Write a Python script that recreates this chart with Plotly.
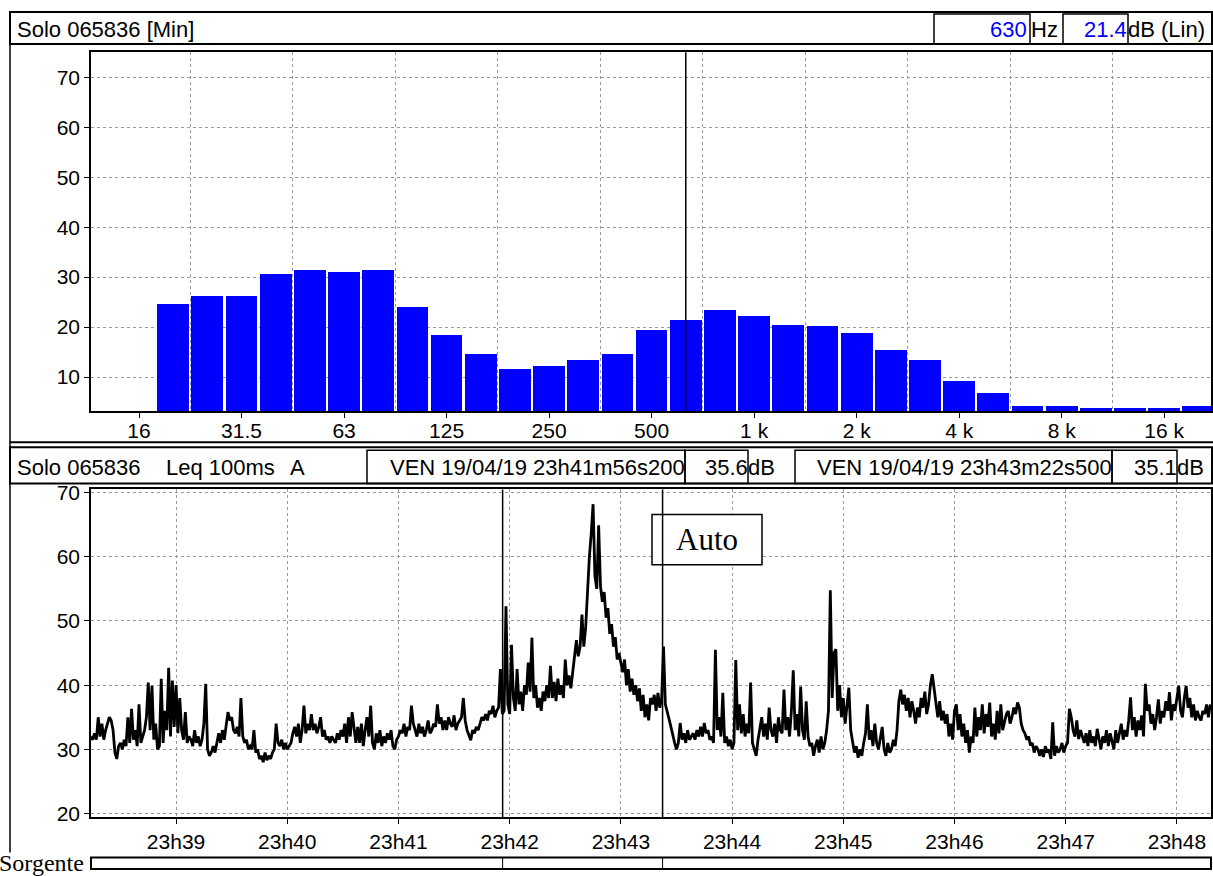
import numpy as np
import pandas as pd
import plotly.graph_objects as go

# ---------------- DATA ----------------
band_hz = ["20", "25", "31.5", "40", "50", "63", "80", "100", "125", "160", "200",
           "250", "315", "400", "500", "630", "800", "1k", "1.25k", "1.6k", "2k",
           "2.5k", "3.15k", "4k", "5k", "6.3k", "8k", "10k", "12.5k", "16k", "20k"]
band_db = [24.7, 26.3, 26.3, 30.7, 31.5, 31.1, 31.5, 23.9, 18.4, 14.6, 11.6,
           12.2, 13.4, 14.6, 19.4, 21.4, 23.3, 22.2, 20.4, 20.2, 18.8,
           15.4, 13.4, 9.2, 6.8, 4.2, 4.2, 3.8, 3.8, 3.8, 4.2]
freq_tick_text = ["16", "31.5", "63", "125", "250", "500", "1 k", "2 k", "4 k", "8 k", "16 k"]
spec_cursor_band = "630"

# Leq 100 ms (A) time history, one value per second; start given in seconds from 23:39:00
seg_a_start = -46
seg_a = [32, 31.5, 32.5, 31.5, 35, 32, 34, 31.5, 33, 34, 35, 34.5, 33, 29.5, 28.5, 30.5,
         31, 30, 31.5, 30.5, 35, 31, 36.3, 31.5, 33, 30.5, 37, 31, 32, 33, 35, 40.4, 33, 39.9,
         31.5, 34, 30, 30.5, 41, 31, 36, 33, 42.7, 32, 40.7, 33.5]
seg_b_start = 0
seg_b = [40, 32.5, 38, 33, 31.5, 35.8, 31, 32, 31.5, 30.5, 33, 31, 32, 30.5, 31.5, 34, 40.2,
         30, 29, 29.5, 30.5, 29.5, 31, 32.5, 31, 33, 31.5, 34, 35.8, 34.5, 35, 33,
         32.5, 33.5, 32, 38, 32, 31, 31.5, 30, 30.5, 30, 33, 29.5, 30,
         28.5, 29, 28, 29.5, 28.3, 29, 28.5, 29.5, 30, 34, 31, 30.5, 31.5, 30, 31]
seg_c_start = 60
seg_c = [30, 30.5, 31, 32.5, 33.5, 32, 34, 31, 33, 36.8, 32.5, 34, 33, 35.5, 33, 34, 32.5,
         33.5, 35, 32, 33, 31.5, 32, 31, 32, 31.5, 31, 32.5, 31.5, 33, 32, 34, 31, 35, 32,
         35.8, 33, 31, 33.5, 31, 34, 30.5, 33, 35, 32, 36.8, 31, 30, 32.5, 31, 33, 30.5,
         32, 31, 32.5, 31.5, 33, 30.5, 30, 31.5]
seg_d_start = 120
seg_d = [32, 33, 32.5, 34, 32, 33.5, 33, 36.8, 34, 33, 32, 34, 32.5, 33.5, 32, 33, 34.5,
         32.5, 33, 34, 33.5, 37, 34, 35, 33, 34.5, 33, 35, 34, 33.5, 35.3, 33, 34, 34.5, 35,
         38, 34.5, 33, 32, 31.4, 33, 32.5, 33.5, 33, 34, 35, 34.5, 35.5, 34.5, 36, 35.5,
         36.8, 35, 36, 36.5, 42.5, 35.5, 36, 52.3, 37]
seg_e_start = 180
seg_e = [35.5, 46.3, 38, 36, 42.5, 37, 39, 36, 40, 38.5, 43.5, 39, 47.4, 38, 40, 36.5, 38,
         36, 39, 37.5, 40, 38, 43, 38, 40.5, 37.5, 41, 38.5, 40, 38, 44, 40, 41.5, 39.5, 42,
         45, 47, 44.5, 46, 51, 46, 49, 55.4, 60, 63.6, 68.2, 57, 55, 64.9, 55.4, 53, 54.5,
         50.5, 52, 48, 49.5, 46, 47.5, 44, 45]
seg_f_start = 240
seg_f = [43.5, 42, 44, 40, 42.5, 39, 41, 38.5, 40, 37.5, 39.5, 36, 38.5, 35, 37, 34.5, 38,
         37, 38.5, 36, 38.8, 36.5, 38, 46, 37, 36, 34.7, 33.5, 32, 31, 30,
         31, 34.1, 31.5, 32.5, 31, 33, 31.5, 32, 32.5, 31.5, 33, 32, 33.5, 32, 34.1, 32.5,
         33, 31.5, 32, 31, 45.5, 33, 35, 32, 38.8, 31, 32, 30.5, 31.5]
seg_g_start = 300
seg_g = [30, 31, 43.9, 33, 37, 32.5, 35.5, 32, 34, 32.5, 40.4, 31, 30, 29, 31.5, 33, 35, 32,
         34, 31.5, 36.5, 33, 32, 34, 31, 35, 33, 32.5, 39.3, 33, 35, 32, 36, 42.3, 33, 35.5,
         32, 39.8, 33, 31.5, 37.5, 32, 30.5, 31, 29, 30.5, 31.5, 29.5, 32, 30, 31, 33, 36,
         54.8, 38, 45, 45.6, 36, 40, 35]
seg_h_start = 360
seg_h = [38, 34, 37, 39.6, 33, 31, 29.5, 30.5, 28.7, 30, 29, 31, 32.5, 37, 31.5, 33, 30.5,
         34, 31, 30, 32, 33.5, 30, 29, 31, 29.5, 30, 31.5, 30.5, 33, 37.5, 39.3, 37, 38.5,
         36, 38, 35, 37.5, 36, 34, 36.5, 35, 38, 36.5, 39, 35.5, 37, 40, 41.7, 39.5, 38, 35,
         37.5, 34.5, 36, 34, 35.5, 32, 34, 31.5]
seg_i_start = 420
seg_i = [36, 37, 33, 35.5, 32, 34, 31, 33, 29.5, 32, 31, 36.5, 32, 35, 33, 37, 32.5, 35.5,
         33.5, 37.3, 32, 34, 31.5, 36, 32.5, 37, 33, 34.5, 35.5, 36, 34, 35, 36.5, 35.5,
         37.3, 36.5, 34, 33, 32.5, 31.5, 32, 30.6, 31, 29.5, 30.5, 30, 29, 30, 28.8, 30.5,
         29.5, 30, 28.5, 34.2, 29, 30.5, 29.5, 30, 31, 29.5]
seg_j_start = 480
seg_j = [30.5, 31, 36.3, 35, 33, 32, 34.5, 31.6, 33, 32, 31, 32.5, 30.5, 33, 31, 32, 30.5,
         33.2, 31.5, 30, 32, 31, 33, 30.5, 32.5, 31, 30, 33, 31, 32.5, 34, 31.5, 33, 32,
         34.5, 38.1, 33, 35, 32, 34.5, 33, 35.3, 32, 40.2, 36, 37, 34, 35.5, 33, 35, 37.8,
         34, 36, 35, 37.5, 36, 38.9, 34.5, 37, 36]
seg_k_start = 540
seg_k = [38, 39.9, 36, 35, 38, 39.9, 36.5, 38, 35, 37, 34.5, 36, 35, 34.5, 36, 35.5, 37, 35, 37]

time_ref = "2019-04-19 23:39:00"
time_tick_text = ["23h39", "23h40", "23h41", "23h42", "23h43", "23h44", "23h45", "23h46", "23h47", "23h48"]
cursor_times = ["2019-04-19 23:41:56.200", "2019-04-19 23:43:22.500"]
cursor_levels = ["35.6", "35.1"]

# ---------------- BUILD ----------------
W, H = 1213, 876
def Y(y):
    # compensate the vertical framing observed in the photographed page
    return min(max((y - 8) / 0.98, 0), H)
def px(x): return x / W
def py(y): return 1 - Y(y) / H

segments = [(seg_a_start, seg_a), (seg_b_start, seg_b), (seg_c_start, seg_c), (seg_d_start, seg_d),
            (seg_e_start, seg_e), (seg_f_start, seg_f), (seg_g_start, seg_g), (seg_h_start, seg_h),
            (seg_i_start, seg_i), (seg_j_start, seg_j), (seg_k_start, seg_k)]
secs, levels = [], []
for s0, vals in segments:
    secs.extend(s0 + np.arange(len(vals)))
    levels.extend(vals)
t_ref = pd.Timestamp(time_ref)
times = t_ref + pd.to_timedelta(np.array(secs, dtype=float), unit="s")

band_idx = np.arange(1, len(band_hz) + 1)       # 16 Hz is position 0
tick_idx = np.arange(0, 3 * len(freq_tick_text), 3)
cursor_idx = band_idx[band_hz.index(spec_cursor_band)]

FONT = "Liberation Sans"
FS = 22
TFS = 21
fig = go.Figure()
fig.add_trace(go.Bar(x=band_idx, y=band_db, width=0.93, marker=dict(color="#0000FF", line=dict(width=0)),
                     xaxis="x", yaxis="y", showlegend=False))
fig.add_trace(go.Scatter(x=times, y=levels, mode="lines", line=dict(color="black", width=2.8),
                         xaxis="x2", yaxis="y2", showlegend=False))

grid = dict(gridcolor="#9a9a9a", griddash="dot", gridwidth=1)
axis_common = dict(showline=True, linecolor="black", linewidth=1.6, mirror=True, zeroline=False,
                   ticks="outside", ticklen=5, tickcolor="black",
                   tickfont=dict(family=FONT, size=TFS, color="black"))
minute_vals = [t_ref + pd.Timedelta(minutes=k) for k in range(len(time_tick_text))]

fig.update_layout(
    width=W, height=H, margin=dict(l=0, r=0, t=0, b=0), autosize=False,
    paper_bgcolor="white", plot_bgcolor="white", bargap=0,
    xaxis=dict(domain=[px(91), px(1211)], anchor="y", range=[-1.405, 31.37],
               tickmode="array", tickvals=list(tick_idx), ticktext=freq_tick_text, showgrid=False,
               ticklabelstandoff=-5,
               minor=dict(tickmode="array", tickvals=list(tick_idx + 1.5), showgrid=True, ticks="",
                          gridcolor="#9a9a9a", griddash="dot", gridwidth=1),
               **axis_common),
    yaxis=dict(domain=[py(410), py(52)], anchor="x", range=[3.18, 75.02],
               tickmode="array", tickvals=[10, 20, 30, 40, 50, 60, 70], showgrid=True, **grid,
               **axis_common),
    xaxis2=dict(domain=[px(91), px(1211)], anchor="y2", type="date",
                range=["2019-04-19 23:38:14.1", "2019-04-19 23:48:18.4"],
                tickmode="array", tickvals=minute_vals, ticktext=time_tick_text, showgrid=True, **grid,
                **axis_common),
    yaxis2=dict(domain=[py(815), py(488)], anchor="x2", range=[19.4, 70.5],
                tickmode="array", tickvals=[20, 30, 40, 50, 60, 70], showgrid=True, **grid,
                **axis_common),
)

shapes = []
def rect(x0, y0, x1, y1, w=1.5, fill=None):
    shapes.append(dict(type="rect", xref="paper", yref="paper", x0=px(x0), x1=px(x1), y0=py(y1), y1=py(y0),
                       line=dict(color="black", width=w), fillcolor=fill, layer="above"))
def hline(x0, x1, y, w=1.5):
    shapes.append(dict(type="line", xref="paper", yref="paper", x0=px(x0), x1=px(x1), y0=py(y), y1=py(y),
                       line=dict(color="black", width=w), layer="above"))
def vline(x, y0, y1, w=1.5):
    shapes.append(dict(type="line", xref="paper", yref="paper", x0=px(x), x1=px(x), y0=py(y0), y1=py(y1),
                       line=dict(color="black", width=w), layer="above"))

# header 1
rect(10, 12, 1212, 44, w=2)
rect(934, 14, 1030, 44)
rect(1063, 14, 1128, 44)
vline(10, 12, 850, w=1.5)
# separator + header 2
hline(10, 1213, 441, w=2)
rect(10, 446, 1212, 482, w=2)
rect(367, 449, 685, 482)
rect(685, 449, 748, 482)
rect(795, 449, 1112, 482)
rect(1112, 449, 1177, 482)
# Auto box
rect(652, 513, 762, 563, w=1.5, fill="white")
# Sorgente strip
rect(91, 855, 1211, 871, w=2)

# cursors
shapes.append(dict(type="line", xref="x", yref="y domain", x0=cursor_idx, x1=cursor_idx, y0=0, y1=1,
                   line=dict(color="black", width=1.5)))
for ct in cursor_times:
    shapes.append(dict(type="line", xref="x2", yref="y2 domain", x0=ct, x1=ct, y0=0, y1=1,
                       line=dict(color="black", width=1.5)))
    shapes.append(dict(type="line", xref="x2", yref="paper", x0=ct, x1=ct, y0=py(871), y1=py(855),
                       line=dict(color="black", width=1)))
fig.update_layout(shapes=shapes)

ann = []
def text(s, x, y, anchor="left", color="black", size=FS, family=FONT):
    ann.append(dict(text=s, x=px(x), y=py(y), xref="paper", yref="paper", xanchor=anchor, yanchor="middle",
                    showarrow=False, font=dict(family=family, size=size, color=color)))

text("Solo 065836 [Min]", 15, 29)
text(spec_cursor_band, 1029, 29, anchor="right", color="#0000FF")
text("Hz", 1029, 29)
text(f"{band_db[band_hz.index(spec_cursor_band)]:.1f}", 1129, 29, anchor="right", color="#0000FF")
text("dB (Lin)", 1126, 29)
text("Solo 065836", 15, 466)
text("Leq 100ms", 164, 466)
text("A", 288, 466)
text("VEN 19/04/19 23h41m56s200", 687, 466, anchor="right")
text(cursor_levels[0], 750, 466, anchor="right")
text("dB", 746, 466)
text("VEN 19/04/19 23h43m22s500", 1114, 466, anchor="right")
text(cursor_levels[1], 1179, 466, anchor="right")
text("dB", 1175, 466)
text("Auto", 707, 538, anchor="center", size=31, family="Liberation Serif")
text("Sorgente", -3, 860, size=24, family="Liberation Serif")
fig.update_layout(annotations=ann)

fig.write_html("out.html", config={"displayModeBar": False, "responsive": False})
with open("out.html", "r", encoding="utf-8") as f:
    html = f.read()
css = ("<style>html,body{margin:0;padding:0;overflow:hidden;width:1213px;height:876px;}"
       ".plotly-graph-div{position:absolute;top:0;left:0;}</style>")
html = html.replace("<head>", "<head>" + css, 1)
with open("out.html", "w", encoding="utf-8") as f:
    f.write(html)
